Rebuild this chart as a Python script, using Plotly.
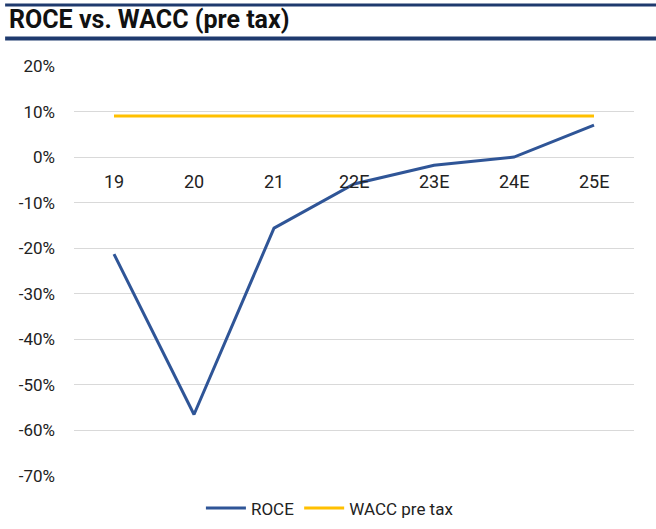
import plotly.graph_objects as go

years = ["19", "20", "21", "22E", "23E", "24E", "25E"]
roce = [-21.3, -56.5, -15.6, -5.9, -1.8, 0.0, 7.0]
wacc = [9.0, 9.0, 9.0, 9.0, 9.0, 9.0, 9.0]
y_ticks = [20, 10, 0, -10, -20, -30, -40, -50, -60, -70]

navy = "#1F3A6E"
font = "Roboto, Arial, sans-serif"

fig = go.Figure()
fig.add_trace(go.Scatter(x=years, y=roce, mode="lines", name="ROCE",
                         line=dict(color="#2F5597", width=3)))
fig.add_trace(go.Scatter(x=years, y=wacc, mode="lines", name="WACC pre tax",
                         line=dict(color="#FFC000", width=3)))

# category labels sit just below the 0% line (x given as category index)
for i, yr in enumerate(years):
    fig.add_annotation(x=i, y=0, text=yr, showarrow=False, yanchor="top",
                       yshift=-12, font=dict(family=font, size=18, color="#222"))

fig.add_annotation(x=-0.12, y=1.113, xref="paper", yref="paper", text="<b>ROCE vs. WACC (pre tax)</b>",
                   showarrow=False, xanchor="left", yanchor="middle",
                   font=dict(family=font, size=25, color="#111"))
fig.add_shape(type="line", xref="paper", yref="paper", x0=-0.123, x1=1.04, y0=1.149, y1=1.149,
              line=dict(color=navy, width=3))
fig.add_shape(type="line", xref="paper", yref="paper", x0=-0.123, x1=1.04, y0=1.067, y1=1.067,
              line=dict(color=navy, width=4))

fig.update_layout(
    width=656, height=529,
    margin=dict(l=74, r=22, t=66, b=53, autoexpand=False),
    plot_bgcolor="white", paper_bgcolor="white",
    font=dict(family=font, size=17, color="#222"),
    showlegend=True,
    legend=dict(orientation="h", x=0.457, xanchor="center", y=-0.035, yanchor="top",
                font=dict(size=17), itemwidth=40),
    xaxis=dict(type="category", range=[-0.5, 6.5], showticklabels=False, showgrid=False,
               zeroline=False, showline=False),
    yaxis=dict(range=[-70, 20], tickvals=y_ticks, ticktext=[f"{v}%" for v in y_ticks],
               showgrid=True, gridcolor="#D9D9D9", gridwidth=1, zeroline=False,
               ticks="", ticklabelstandoff=18, showline=False, automargin=False),
)

fig.write_html("out.html", config={"displayModeBar": False},
               post_script="document.body.style.margin='0';")
